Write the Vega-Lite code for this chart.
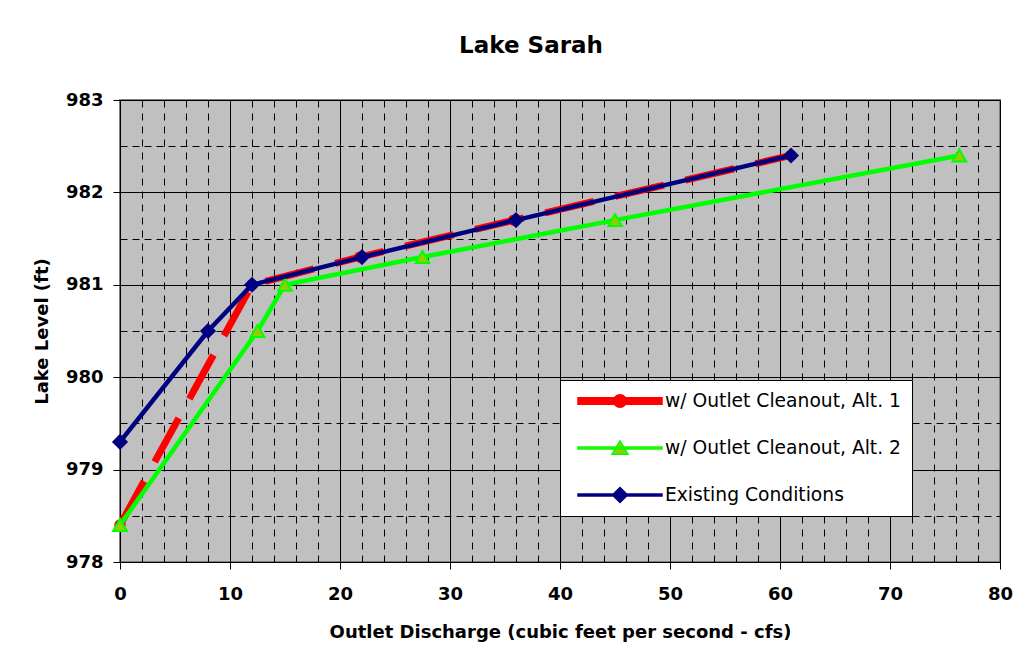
{
  "$schema": "https://vega.github.io/schema/vega-lite/v6.json",
  "width": 880,
  "height": 462,
  "autosize": {"type": "none"},
  "padding": {"left": 120, "top": 100, "right": 36, "bottom": 85},
  "background": "white",
  "title": {
    "text": "Lake Sarah",
    "font": "DejaVu Sans",
    "fontSize": 23,
    "fontWeight": "bold",
    "color": "black",
    "anchor": "middle",
    "dx": -29,
    "offset": 33
  },
  "config": {
    "view": {"fill": "#C0C0C0", "stroke": "#808080", "strokeWidth": 2},
    "axis": {
      "labelFont": "DejaVu Sans",
      "labelFontSize": 18,
      "labelFontWeight": "bold",
      "labelColor": "black",
      "labelFlush": false,
      "titleFont": "DejaVu Sans",
      "titleFontSize": 18,
      "titleFontWeight": "bold",
      "titleColor": "black",
      "domainColor": "black",
      "tickColor": "black",
      "tickSize": 7
    },
    "legend": {
      "labelFont": "DejaVu Sans",
      "labelFontSize": 18,
      "labelColor": "black"
    }
  },
  "data": {
    "values": [
      {"series": "w/ Outlet Cleanout, Alt. 1", "q": 0, "level": 978.4},
      {"series": "w/ Outlet Cleanout, Alt. 1", "q": 12, "level": 981.0},
      {"series": "w/ Outlet Cleanout, Alt. 1", "q": 21.8, "level": 981.3},
      {"series": "w/ Outlet Cleanout, Alt. 1", "q": 35.8, "level": 981.7},
      {"series": "w/ Outlet Cleanout, Alt. 1", "q": 61, "level": 982.4},
      {"series": "w/ Outlet Cleanout, Alt. 2", "q": 0, "level": 978.4},
      {"series": "w/ Outlet Cleanout, Alt. 2", "q": 12.5, "level": 980.5},
      {"series": "w/ Outlet Cleanout, Alt. 2", "q": 15, "level": 981.0},
      {"series": "w/ Outlet Cleanout, Alt. 2", "q": 27.5, "level": 981.3},
      {"series": "w/ Outlet Cleanout, Alt. 2", "q": 45, "level": 981.7},
      {"series": "w/ Outlet Cleanout, Alt. 2", "q": 76.3, "level": 982.4},
      {"series": "Existing Conditions", "q": 0, "level": 979.3},
      {"series": "Existing Conditions", "q": 8, "level": 980.5},
      {"series": "Existing Conditions", "q": 12, "level": 981.0},
      {"series": "Existing Conditions", "q": 22, "level": 981.3},
      {"series": "Existing Conditions", "q": 36, "level": 981.7},
      {"series": "Existing Conditions", "q": 61, "level": 982.4}
    ]
  },
  "resolve": {"axis": {"x": "independent", "y": "independent"}},
  "layer": [
    {
      "transform": [{"filter": "datum.series === 'w/ Outlet Cleanout, Alt. 1'"}],
      "mark": {"type": "line", "color": "#FF0000", "strokeWidth": 7, "strokeDash": [50, 22],
        "point": {"shape": "circle", "size": 130, "filled": true, "fill": "#FF0000"}},
      "encoding": {
        "x": {"field": "q", "type": "quantitative", "scale": {"domain": [0, 80], "nice": false},
          "axis": {"orient": "bottom", "values": [0,10,20,30,40,50,60,70,80], "grid": true, "gridColor": "black", "gridWidth": 1,
            "labelPadding": 16, "titlePadding": 20, "title": "Outlet Discharge (cubic feet per second - cfs)"}},
        "y": {"field": "level", "type": "quantitative", "scale": {"domain": [978, 983], "nice": false, "zero": false},
          "axis": {"orient": "left", "values": [978,979,980,981,982,983], "format": "d", "grid": true, "gridColor": "black", "gridWidth": 1,
            "labelPadding": 10, "titlePadding": 14, "title": "Lake Level (ft)"}}
      }
    },
    {
      "transform": [{"filter": "datum.series === 'w/ Outlet Cleanout, Alt. 2'"}],
      "mark": {"type": "line", "color": "#00FF00", "strokeWidth": 4.5,
        "point": {"shape": "triangle-up", "size": 190, "filled": true, "fill": "#99CC00", "stroke": "#00FF00", "strokeWidth": 2}},
      "encoding": {
        "x": {"field": "q", "type": "quantitative",
          "axis": {"orient": "bottom", "values": [2,4,6,8,12,14,16,18,22,24,26,28,32,34,36,38,42,44,46,48,52,54,56,58,62,64,66,68,72,74,76,78],
            "grid": true, "gridColor": "black", "gridDash": [7, 6], "gridWidth": 1, "labels": false, "ticks": false, "domain": false, "title": null}},
        "y": {"field": "level", "type": "quantitative",
          "axis": {"orient": "left", "values": [978.5, 979.5, 980.5, 981.5, 982.5],
            "grid": true, "gridColor": "black", "gridDash": [7, 5], "gridWidth": 1, "labels": false, "ticks": false, "domain": false, "title": null}}
      }
    },
    {
      "transform": [{"filter": "datum.series === 'Existing Conditions'"}],
      "mark": {"type": "line", "color": "#000080", "strokeWidth": 4.5,
        "point": {"shape": "diamond", "size": 260, "filled": true, "fill": "#000080"}},
      "encoding": {
        "x": {"field": "q", "type": "quantitative", "axis": null},
        "y": {"field": "level", "type": "quantitative", "axis": null}
      }
    },
    {
      "mark": {"type": "point", "filled": true, "size": 0},
      "encoding": {
        "x": {"field": "q", "type": "quantitative", "axis": null},
        "y": {"field": "level", "type": "quantitative", "axis": null},
        "shape": {"field": "series", "type": "nominal",
          "scale": {"domain": ["w/ Outlet Cleanout, Alt. 1", "w/ Outlet Cleanout, Alt. 2", "Existing Conditions"],
            "range": [
              "M-1,-0.08H1V0.08H-1Z M0.15,0A0.15,0.15 0 1,1 -0.15,0A0.15,0.15 0 1,1 0.15,0Z",
              "M-1,-0.025H1V0.025H-1Z M0,-0.17L0.19,0.15H-0.19Z",
              "M-1,-0.025H1V0.025H-1Z M0,-0.18L0.18,0L0,0.18L-0.18,0Z"
            ]},
          "legend": {
            "title": null, "orient": "none", "legendX": 440, "legendY": 280,
            "fillColor": "white", "strokeColor": "black", "padding": 11,
            "symbolSize": 7056, "symbolStrokeWidth": 1.5, "symbolOpacity": 1,
            "clipHeight": 20, "rowPadding": 27, "labelOffset": 2, "symbolOffset": 6,
            "labelFontSize": 18.7, "labelLimit": 400
          }},
        "fill": {"field": "series", "type": "nominal",
          "scale": {"domain": ["w/ Outlet Cleanout, Alt. 1", "w/ Outlet Cleanout, Alt. 2", "Existing Conditions"],
            "range": ["#FF0000", "#99CC00", "#000080"]}},
        "stroke": {"field": "series", "type": "nominal",
          "scale": {"domain": ["w/ Outlet Cleanout, Alt. 1", "w/ Outlet Cleanout, Alt. 2", "Existing Conditions"],
            "range": ["#FF0000", "#00FF00", "#000080"]}}
      }
    }
  ]
}
